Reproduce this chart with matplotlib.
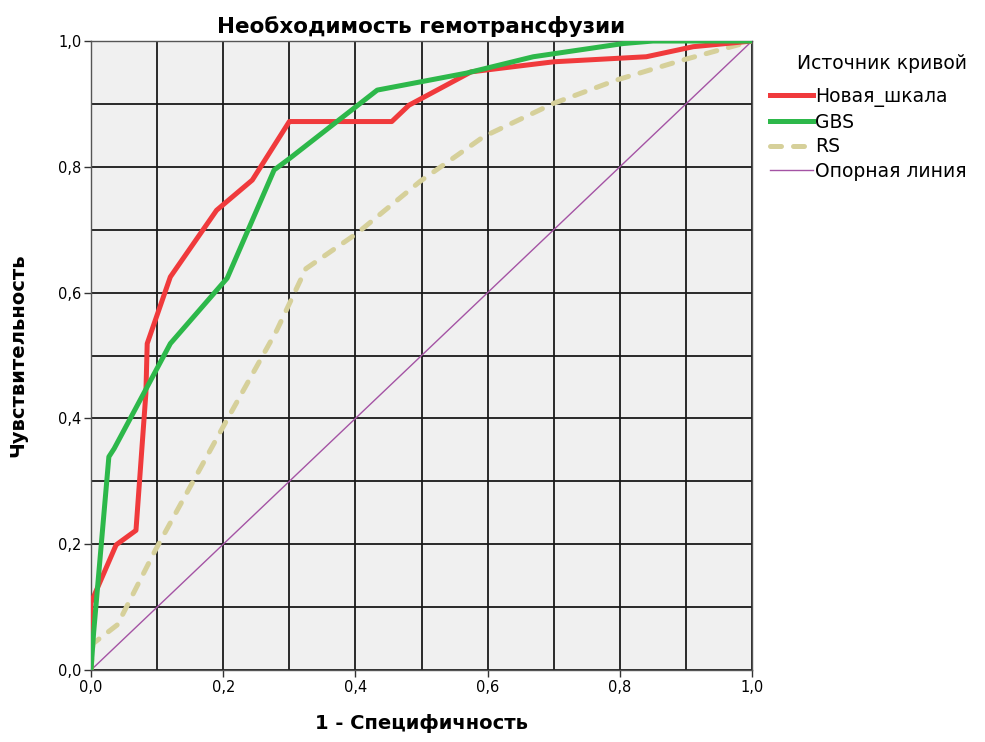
import matplotlib
matplotlib.use("Agg")
import matplotlib.pyplot as plt
from matplotlib.ticker import MultipleLocator, FuncFormatter

plt.rcParams['font.family'] = ['DejaVu Sans']

# ROC curves: 1 - specificity (fpr) vs sensitivity (tpr)
new_fpr = [0.0, 0.0, 0.0, 0.038, 0.068, 0.083, 0.085, 0.12, 0.19, 0.244, 0.30, 0.455, 0.481, 0.575, 0.70, 0.84, 0.911, 1.0]
new_tpr = [0.0, 0.064, 0.107, 0.199, 0.222, 0.44, 0.519, 0.625, 0.731, 0.779, 0.872, 0.872, 0.898, 0.951, 0.967, 0.975, 0.991, 1.0]

gbs_fpr = [0.0, 0.004, 0.027, 0.035, 0.12, 0.206, 0.277, 0.30, 0.433, 0.498, 0.568, 0.669, 0.805, 0.85, 1.0]
gbs_tpr = [0.0, 0.06, 0.339, 0.352, 0.519, 0.623, 0.795, 0.813, 0.922, 0.935, 0.949, 0.975, 0.996, 1.0, 1.0]

rs_fpr = [0.0, 0.003, 0.04, 0.097, 0.20, 0.281, 0.325, 0.402, 0.498, 0.594, 0.70, 0.795, 0.896, 1.0]
rs_tpr = [0.0, 0.042, 0.072, 0.19, 0.387, 0.54, 0.638, 0.694, 0.777, 0.848, 0.901, 0.938, 0.97, 1.0]

ref_x = [0.0, 1.0]
ref_y = [0.0, 1.0]

series_names = ["Новая_шкала", "GBS", "RS", "Опорная линия"]

fig = plt.figure(figsize=(9.85, 7.42), dpi=100)
ax = fig.add_axes([0.0924, 0.097, 0.6711, 0.8477])
ax.set_facecolor("#f0f0f0")

ax.plot(new_fpr, new_tpr, color="#f03a3c", lw=3.6, solid_joinstyle="round", label=series_names[0], zorder=4)
ax.plot(gbs_fpr, gbs_tpr, color="#2db84a", lw=3.6, solid_joinstyle="round", label=series_names[1], zorder=4)
ax.plot(rs_fpr, rs_tpr, color="#d6d09a", lw=3.6, dashes=(2.2, 2.4), dash_capstyle="round",
        label=series_names[2], zorder=3)
ax.plot(ref_x, ref_y, color="#a453a4", lw=1.0, label=series_names[3], zorder=2)

ax.set_xlim(0, 1)
ax.set_ylim(0, 1)
ax.xaxis.set_major_locator(MultipleLocator(0.2))
ax.yaxis.set_major_locator(MultipleLocator(0.2))
ax.xaxis.set_minor_locator(MultipleLocator(0.1))
ax.yaxis.set_minor_locator(MultipleLocator(0.1))
fmt = FuncFormatter(lambda v, p: f"{v:.1f}".replace(".", ","))
ax.xaxis.set_major_formatter(fmt)
ax.yaxis.set_major_formatter(fmt)
ax.grid(which="both", color="#1a1a1a", lw=1.3, zorder=1)
ax.set_axisbelow(True)
ax.tick_params(which="major", length=5, width=1, color="#333333", labelsize=10.5, pad=2)
ax.tick_params(which="minor", length=0)
for s in ax.spines.values():
    s.set_color("#555555")
    s.set_linewidth(1.0)

ax.set_title("Необходимость гемотрансфузии", fontsize=15.5, fontweight="bold", pad=6)
ax.set_xlabel("1 - Специфичность", fontsize=14, fontweight="bold", labelpad=14)
ax.set_ylabel("Чувствительность", fontsize=14, fontweight="bold", labelpad=22)

leg = ax.legend(title="Источник кривой", loc="upper left", bbox_to_anchor=(1.01, 0.997),
                frameon=False, fontsize=13.5, title_fontsize=13.5, handlelength=2.3,
                handletextpad=0.1, labelspacing=0.3, borderaxespad=0.2)
leg._legend_box.align = "right"
leg._legend_box.sep = 10

fig.savefig("out.png", dpi=100)
